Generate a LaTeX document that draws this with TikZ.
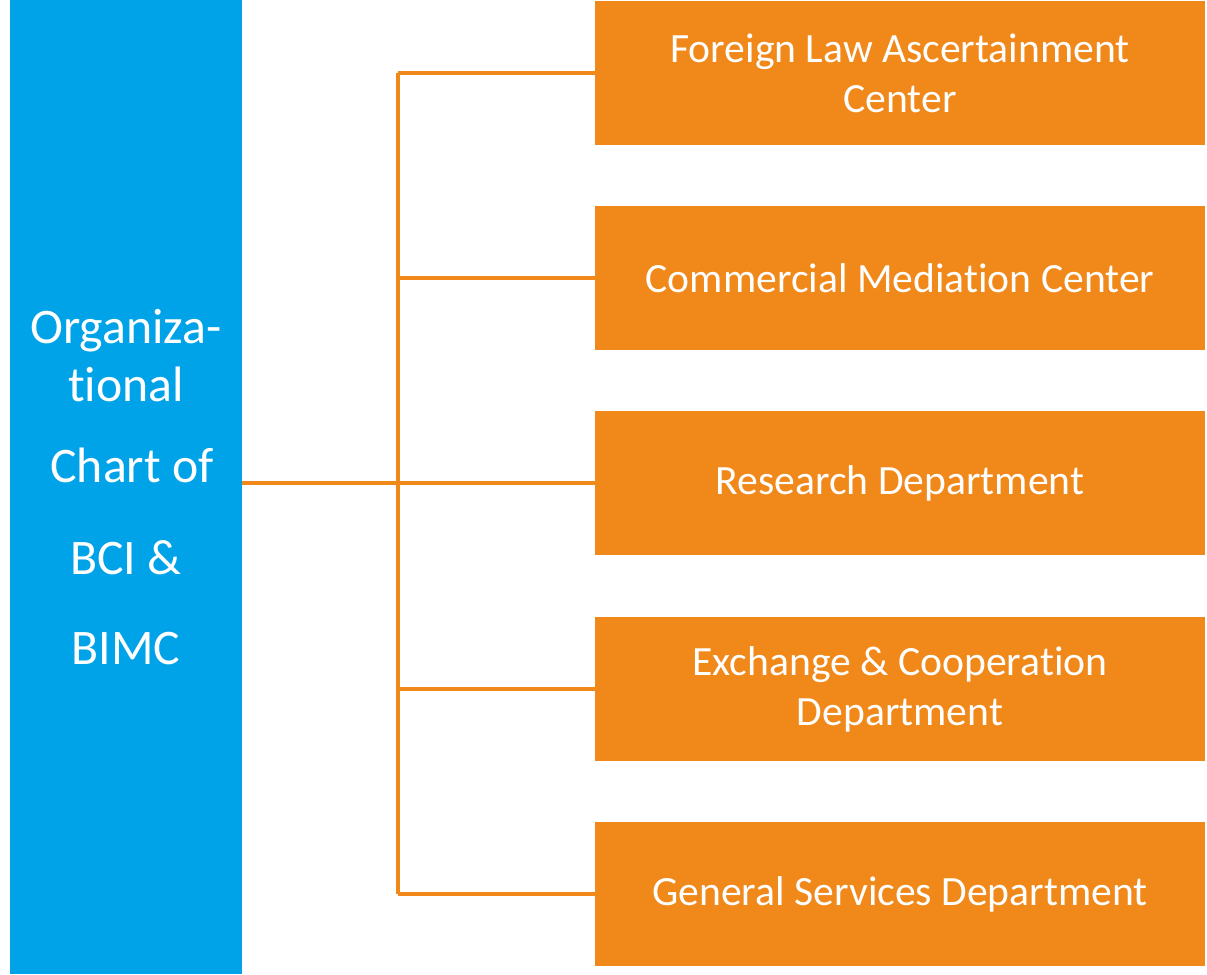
\documentclass[tikz,border=0pt]{standalone}
\usepackage{fontspec}
\setmainfont[Ligatures=NoCommon]{Carlito}
\usepackage{tikz}
\definecolor{chartblue}{RGB}{0,163,232}
\definecolor{chartorange}{RGB}{240,136,26}
\begin{document}
\begin{tikzpicture}[x=0.02cm,y=-0.02cm,
	rootbox/.style={fill=chartblue,text=white,inner sep=0pt,minimum width=4.64cm,minimum height=19.48cm,align=center,font=\fontsize{28.3}{33}\selectfont},
	deptbox/.style={fill=chartorange,text=white,inner sep=0pt,minimum width=12.2cm,minimum height=2.88cm,align=center,font=\fontsize{23.7}{28.5}\selectfont},
	link/.style={draw=chartorange,line width=1.8pt}]
			\useasboundingbox (0,0) rectangle (1207,974);
			\fill[white] (0,0) rectangle (1207,974);
			\node[rootbox] (root) at (126,487) {Organiza-\\tional\\[0.46cm]\hspace{0.24cm}Chart of\\[0.68cm]BCI \&\\[0.64cm]BIMC};
			\node[deptbox] (n1) at (900,73) {Foreign Law Ascertainment\\Center};
			\node[deptbox] (n2) at (900,278) {Commercial Mediation Center};
			\node[deptbox] (n3) at (900,483) {Research Department};
			\node[deptbox] (n4) at (900,689) {Exchange \& Cooperation\\Department};
			\node[deptbox] (n5) at (900,894) {General Services Department};
			\coordinate (hub) at (398,483);
			\draw[link] (root.east |- n3.west) -- (n3.west);
			\draw[link] (hub |- n1.west) -- (hub |- n5.west);
			\foreach \i in {1,2,4,5}
				\draw[link] (hub |- n\i.west) -- (n\i.west);
		\end{tikzpicture}
\end{document}
